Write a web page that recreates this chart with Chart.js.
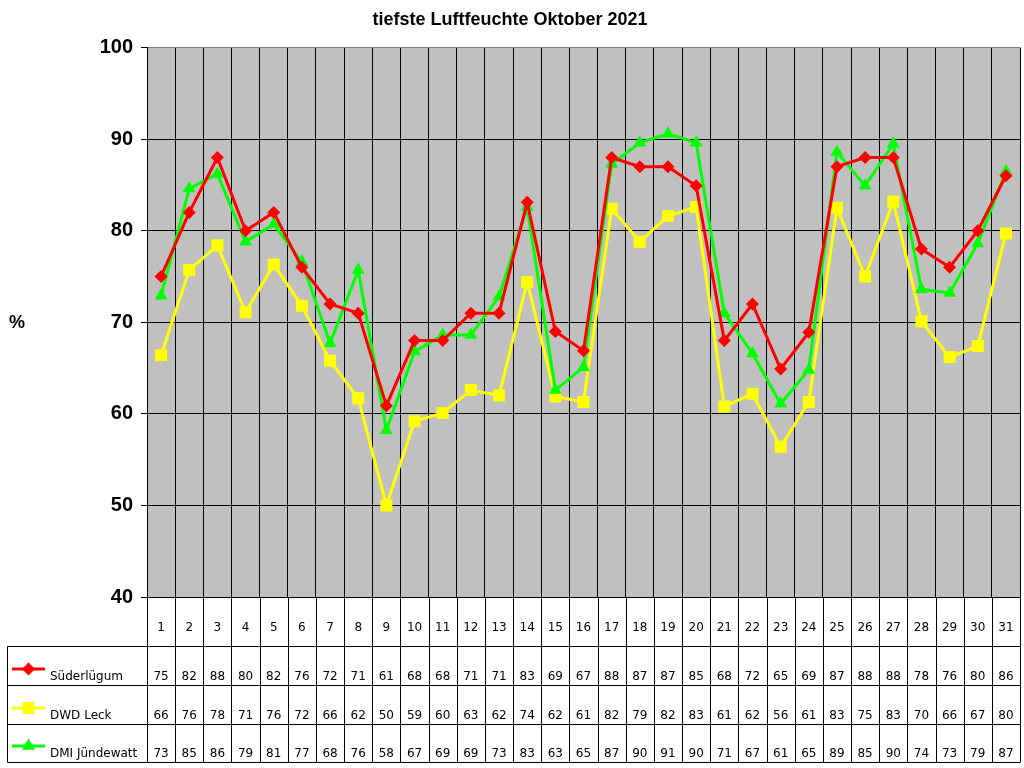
<!DOCTYPE html>
<html lang="de">
<head>
  <meta charset="UTF-8">
  <title>tiefste Luftfeuchte Oktober 2021</title>
  <script src="https://cdn.jsdelivr.net/npm/chart.js"></script>
  <style>
    body { margin: 0; background: #fff; }
    #wrap { width: 1024px; height: 768px; }
  </style>
</head>
<body>
  <div id="wrap"><canvas id="grafik" width="1024" height="768"></canvas></div>

  <script>
    // Tage im Oktober
    const tage = ['1','2','3','4','5','6','7','8','9','10','11','12','13','14','15','16',
                  '17','18','19','20','21','22','23','24','25','26','27','28','29','30','31'];
    const yTicks = [40, 50, 60, 70, 80, 90, 100];

    // Werte (%)
    const suederluegum = [75.0, 82.0, 88.0, 80.0, 82.0, 76.0, 72.0, 71.0, 60.9, 68.0, 68.0, 71.0, 71.0, 83.1, 69.0, 66.9,
                          88.0, 87.0, 87.0, 84.9, 68.0, 72.0, 64.9, 68.9, 87.0, 88.0, 88.0, 78.0, 76.0, 80.0, 86.0];
    const dwdLeck = [66.4, 75.7, 78.4, 71.1, 76.3, 71.8, 65.8, 61.7, 50.0, 59.2, 60.1, 62.6, 62.0, 74.4, 61.9, 61.3,
                     82.4, 78.8, 81.6, 82.6, 60.8, 62.2, 56.4, 61.3, 82.5, 75.0, 83.2, 70.1, 66.2, 67.4, 79.7];
    const dmiJuendewatt = [72.9, 84.6, 86.2, 78.8, 80.7, 76.6, 67.7, 75.7, 58.2, 66.8, 68.6, 68.6, 72.8, 82.6, 62.6, 65.1,
                           87.3, 89.6, 90.6, 89.6, 71.0, 66.6, 61.1, 64.8, 88.6, 84.9, 89.5, 73.6, 73.2, 78.6, 86.5];

    const serien = [
      { name: 'Süderlügum', werte: suederluegum, farbe: '#ff0000', stil: 'rectRot', r: 6.5, order: 0 },
      { name: 'DWD Leck', werte: dwdLeck, farbe: '#ffff00', stil: 'rect', r: 8.5, order: 2 },
      { name: 'DMI Jündewatt', werte: dmiJuendewatt, farbe: '#00ff00', stil: 'triangle', r: 7.5, order: 1 }
    ];

    const tabFont = '12px "DejaVu Sans", sans-serif';

    // grauer Hintergrund der Zeichenfläche
    const hintergrund = {
      id: 'hintergrund',
      beforeDraw(chart) {
        const a = chart.chartArea, ctx = chart.ctx;
        ctx.save();
        ctx.fillStyle = '#c0c0c0';
        ctx.fillRect(a.left, a.top, a.right - a.left, a.bottom - a.top);
        ctx.restore();
      }
    };

    // Datentabelle unter der Grafik + "%"
    const tabelle = {
      id: 'tabelle',
      afterDraw(chart) {
        const ctx = chart.ctx, a = chart.chartArea, xs = chart.scales.x;
        const halb = (xs.getPixelForValue(1) - xs.getPixelForValue(0)) / 2;
        const zeilen = [a.bottom + 48.5, a.bottom + 88, a.bottom + 127, a.bottom + 165];
        const links = 7.5;
        ctx.save();
        ctx.strokeStyle = '#000';
        ctx.lineWidth = 1;
        ctx.beginPath();
        zeilen.forEach(y => { ctx.moveTo(links, Math.round(y) + 0.5); ctx.lineTo(a.right, Math.round(y) + 0.5); });
        ctx.moveTo(links, Math.round(zeilen[0]) + 0.5);
        ctx.lineTo(links, Math.round(zeilen[3]) + 0.5);
        for (let i = 0; i <= tage.length; i++) {
          const x = Math.round(xs.getPixelForValue(0) - halb + i * 2 * halb) + 0.5;
          ctx.moveTo(x, a.bottom);
          ctx.lineTo(x, Math.round(zeilen[3]) + 0.5);
        }
        ctx.stroke();

        ctx.fillStyle = '#000';
        ctx.font = tabFont;
        ctx.textAlign = 'center';
        ctx.textBaseline = 'middle';
        tage.forEach((t, i) => ctx.fillText(t, xs.getPixelForValue(i), a.bottom + 31));

        serien.forEach((s, k) => {
          const yText = zeilen[k + 1] - 8;
          const yLinie = zeilen[k + 1] - 16;
          ctx.fillStyle = '#000';
          ctx.textAlign = 'center';
          s.werte.forEach((v, i) => ctx.fillText(String(Math.round(v)), xs.getPixelForValue(i), yText));
          ctx.textAlign = 'left';
          ctx.fillText(s.name, 50, yText);
          ctx.strokeStyle = s.farbe;
          ctx.lineWidth = 3;
          ctx.beginPath();
          ctx.moveTo(12, yLinie);
          ctx.lineTo(45, yLinie);
          ctx.stroke();
          ctx.fillStyle = s.farbe;
          Chart.helpers.drawPoint(ctx, { pointStyle: s.stil, radius: s.r, rotation: 0, borderWidth: 0 }, 28.5, yLinie);
        });

        ctx.fillStyle = '#000';
        ctx.font = 'bold 18px Arial, "Liberation Sans", sans-serif';
        ctx.textAlign = 'left';
        ctx.fillText('%', 9, 323);
        ctx.restore();
      }
    };

    new Chart(document.getElementById('grafik').getContext('2d'), {
      type: 'line',
      data: {
        labels: tage,
        datasets: serien.map(s => ({
          label: s.name,
          data: s.werte,
          borderColor: s.farbe,
          backgroundColor: s.farbe,
          borderWidth: 3,
          pointStyle: s.stil,
          pointRadius: s.r,
          pointBorderWidth: 0,
          pointBackgroundColor: s.farbe,
          tension: 0,
          fill: false,
          order: s.order
        }))
      },
      options: {
        responsive: false,
        animation: false,
        layout: { autoPadding: false, padding: { left: 0, right: 4, top: 0, bottom: 171 } },
        plugins: {
          legend: { display: false },
          tooltip: { enabled: false },
          title: {
            display: true,
            text: 'tiefste Luftfeuchte Oktober 2021',
            color: '#000',
            font: { family: 'Arial, "Liberation Sans", sans-serif', size: 18, weight: 'bold' },
            padding: { top: 9, bottom: 17 }
          }
        },
        scales: {
          x: {
            type: 'category',
            offset: true,
            ticks: { display: false },
            grid: { offset: true, color: '#000', drawTicks: false, lineWidth: 1 },
            border: { color: '#000' },
            afterFit(s) { s.height = 0; }
          },
          y: {
            min: yTicks[0],
            max: yTicks[yTicks.length - 1],
            afterBuildTicks(s) { s.ticks = yTicks.map(v => ({ value: v })); },
            ticks: {
              color: '#000',
              padding: 8,
              font: { family: 'Arial, "Liberation Sans", sans-serif', size: 20, weight: 'bold' }
            },
            grid: {
              color: c => (c.tick && c.tick.value === 100 ? '#808080' : '#000'),
              tickColor: '#000',
              tickLength: 6,
              lineWidth: 1
            },
            border: { color: '#000' },
            afterFit(s) { s.width = 147; }
          }
        }
      },
      plugins: [hintergrund, tabelle]
    });
  </script>
</body>
</html>
